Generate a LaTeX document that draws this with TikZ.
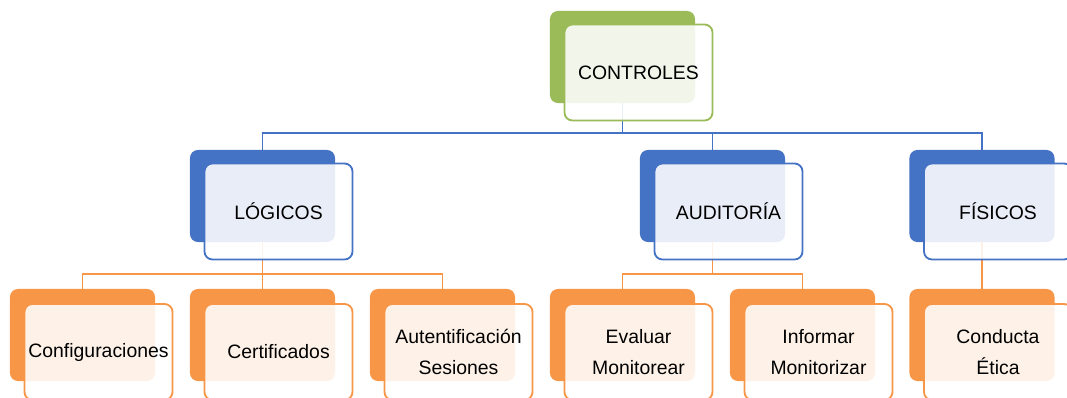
\documentclass[tikz,border=0pt]{standalone}
\usepackage{fontspec}
\setmainfont{Liberation Sans}
\usepackage{xcolor}
\usetikzlibrary{backgrounds}
\usetikzlibrary{calc}

\definecolor{ctlgreen}{HTML}{9BBB59}
\definecolor{ctlblue}{HTML}{4472C4}
\definecolor{ctlorange}{HTML}{F79646}

\tikzset{
    back/.style={rectangle, rounded corners=0.2cm, fill=#1, draw=none,
        minimum width=3.625cm, minimum height=2.3cm, inner sep=0pt},
    front/.style={rectangle, rounded corners=0.2cm, draw=#1, line width=1.3pt,
        fill=white, fill opacity=0.88, text opacity=1, text=black,
        minimum width=3.7cm, minimum height=2.4cm, inner sep=0pt,
        align=center, font=\fontsize{13.8}{22.5}\selectfont},
    link/.style={draw=#1, line width=1.4pt}
}

\begin{document}
\begin{tikzpicture}[x=0.025cm,y=-0.025cm]
	\useasboundingbox (0,0) rectangle (1067,398);

	\coordinate (topbus) at (0,133);
	\coordinate (lowbus) at (0,274);

	% back boxes
	\node[back=ctlgreen] (ctl-b) at (622.5,57) {};
	\node[back=ctlblue] (log-b) at (262.5,196) {};
	\node[back=ctlblue] (aud-b) at (712.5,196) {};
	\node[back=ctlblue] (fis-b) at (982,196) {};
	\node[back=ctlorange] (conf-b) at (82.5,335) {};
	\node[back=ctlorange] (cert-b) at (262.5,335) {};
	\node[back=ctlorange] (aut-b) at (442.5,335) {};
	\node[back=ctlorange] (eval-b) at (622.5,335) {};
	\node[back=ctlorange] (inf-b) at (802.5,335) {};
	\node[back=ctlorange] (cond-b) at (982,335) {};

	% front boxes with the labels
	\node[front=ctlgreen] (ctl) at ([shift={(16,15.5)}]ctl-b.center) {CONTROLES};
	\node[front=ctlblue] (log) at ([shift={(16,15.5)}]log-b.center) {LÓGICOS};
	\node[front=ctlblue] (aud) at ([shift={(16,15.5)}]aud-b.center) {AUDITORÍA};
	\node[front=ctlblue] (fis) at ([shift={(16,15.5)}]fis-b.center) {FÍSICOS};
	\node[front=ctlorange] (conf) at ([shift={(16,17)}]conf-b.center) {Configuraciones};
	\node[front=ctlorange] (cert) at ([shift={(16,17)}]cert-b.center) {Certificados};
	\node[front=ctlorange] (aut) at ([shift={(16,17)}]aut-b.center) {Autentificación\\Sesiones};
	\node[front=ctlorange] (eval) at ([shift={(16,17)}]eval-b.center) {Evaluar\\Monitorear};
	\node[front=ctlorange] (inf) at ([shift={(16,17)}]inf-b.center) {Informar\\Monitorizar};
	\node[front=ctlorange] (cond) at ([shift={(16,17)}]cond-b.center) {Conducta\\Ética};

	\begin{scope}[on background layer]
		\draw[link=ctlblue] (ctl-b.south) -- (ctl-b.south |- topbus) -| (log-b.north);
		\draw[link=ctlblue] (ctl-b.south |- topbus) -| (aud-b.north);
		\draw[link=ctlblue] (ctl-b.south |- topbus) -| (fis-b.north);

		\draw[link=ctlorange] (log-b.south) -- (log-b.south |- lowbus) -| (conf-b.north);
		\draw[link=ctlorange] (log-b.south |- lowbus) -| (cert-b.north);
		\draw[link=ctlorange] (log-b.south |- lowbus) -| (aut-b.north);
		\draw[link=ctlorange] (aud-b.south) -- (aud-b.south |- lowbus) -| (eval-b.north);
		\draw[link=ctlorange] (aud-b.south |- lowbus) -| (inf-b.north);
		\draw[link=ctlorange] (fis-b.south) -- (cond-b.north);
	\end{scope}

\end{tikzpicture}
\end{document}
